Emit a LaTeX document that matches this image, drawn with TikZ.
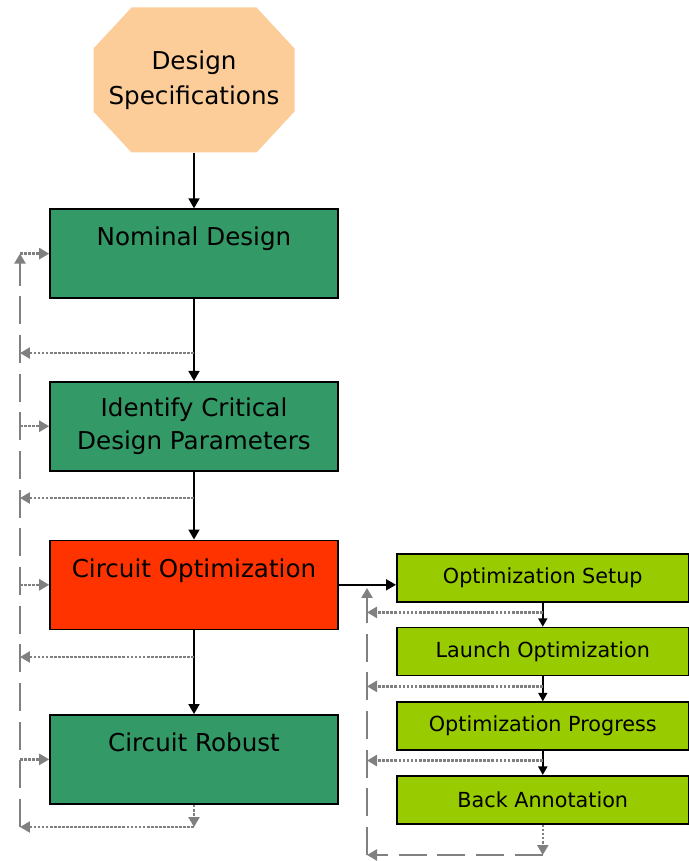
\documentclass[tikz,border=0pt]{standalone}
\usepackage{fontspec}
\setmainfont{DejaVu Sans}
\usepackage{tikz}
\usetikzlibrary{arrows.meta, positioning, calc}
\definecolor{specfill}{RGB}{252,204,153}
\definecolor{stepgreen}{RGB}{51,153,102}
\definecolor{optred}{RGB}{255,51,0}
\definecolor{subgreen}{RGB}{153,204,0}
\colorlet{fbgrey}{black!50}

\begin{document}
\begin{tikzpicture}[>={Triangle[length=2mm, width=2.2mm]},
    specbox/.style={minimum width=4.02cm, minimum height=2.9cm, inner sep=0pt, align=center,
      font=\fontsize{14}{20}\selectfont,
      path picture={\fill[specfill]
        ([xshift=0.76cm]path picture bounding box.north west) -- ([xshift=-0.76cm]path picture bounding box.north east)
        -- ([yshift=-0.82cm]path picture bounding box.north east) -- ([yshift=0.82cm]path picture bounding box.south east)
        -- ([xshift=-0.76cm]path picture bounding box.south east) -- ([xshift=0.76cm]path picture bounding box.south west)
        -- ([yshift=0.82cm]path picture bounding box.south west) -- ([yshift=-0.82cm]path picture bounding box.north west)
        -- cycle;}},
    mainbox/.style={draw=black, line width=0.9pt, minimum width=5.76cm, minimum height=1.78cm, align=center,
      font=\fontsize{14}{19}\selectfont},
    oneline/.style={text depth=0.68cm},
    subbox/.style={draw=black, line width=0.9pt, fill=subgreen, minimum width=5.84cm, minimum height=0.96cm,
      font=\fontsize{11.8}{14}\selectfont},
    flow/.style={->, line width=1pt},
    fb/.style={->, fbgrey, line width=1.4pt, dash pattern=on 1.6pt off 0.7pt},
    fbtrunk/.style={fbgrey, line width=1.4pt, dash pattern=on 16pt off 6pt}]
    \useasboundingbox (0,0) rectangle (13.78,17.22);

    % design flow
    \node[specbox] (spec) at (3.88,15.62) {Design\\Specifications};
    \node[mainbox, fill=stepgreen, oneline, below=1.11cm of spec] (nominal) {Nominal Design};
    \node[mainbox, fill=stepgreen, below=1.64cm of nominal] (identify) {Identify Critical\\Design Parameters};
    \node[mainbox, fill=optred, oneline, below=1.36cm of identify] (circopt) {Circuit Optimization};
    \node[mainbox, fill=stepgreen, oneline, below=1.68cm of circopt] (robust) {Circuit Robust};

    % optimization steps
    \node[subbox, anchor=west] (setup) at (7.92,5.66) {Optimization Setup};
    \node[subbox, below=0.48cm of setup] (launch) {Launch Optimization};
    \node[subbox, below=0.5cm of launch] (progress) {Optimization Progress};
    \node[subbox, below=0.48cm of progress] (backann) {Back Annotation};

    \draw[flow] (spec) -- (nominal);
    \draw[flow] (nominal) -- (identify);
    \draw[flow] (identify) -- (circopt);
    \draw[flow] (circopt) -- (robust);
    \draw[flow] (circopt.east) -- (circopt.east -| setup.west);
    \foreach \a/\b in {setup/launch, launch/progress, progress/backann}
      \draw[flow, >={Triangle[length=1.7mm, width=1.8mm]}] (\a) -- (\b);

    % feedback, left
    \coordinate (lbase) at (0.4,0.68);
    \draw[fbtrunk, ->] (lbase) -- (lbase |- nominal.west);
    \foreach \n in {nominal, identify, circopt, robust}
      \draw[fb] (lbase |- \n.west) -- (\n.west);
    \foreach \a/\b/\f in {nominal/identify/0.66, identify/circopt/0.39, circopt/robust/0.32} {
      \path ($(\a.south)!\f!(\b.north)$) coordinate (tap);
      \draw[fb] (tap) -- (tap -| lbase);
    }
    \draw[fb] (robust.south) -- (robust.south |- lbase);
    \draw[fb] (robust.south |- lbase) -- (lbase);

    % feedback, right
    \coordinate (rbase) at (7.34,0.12);
    \coordinate (rtop) at (7.34,5.46);
    \draw[fbtrunk, ->] (rbase) -- (rtop);
    \foreach \a/\b in {setup/launch, launch/progress, progress/backann} {
      \path ($(\a.south)!0.4!(\b.north)$) coordinate (tap);
      \draw[fb] (tap) -- (tap -| rbase);
    }
    \draw[fb] (backann.south) -- (backann.south |- rbase);
    \draw[fb, dash pattern=on 16pt off 6pt] (backann.south |- rbase) -- (rbase);
\end{tikzpicture}
\end{document}
